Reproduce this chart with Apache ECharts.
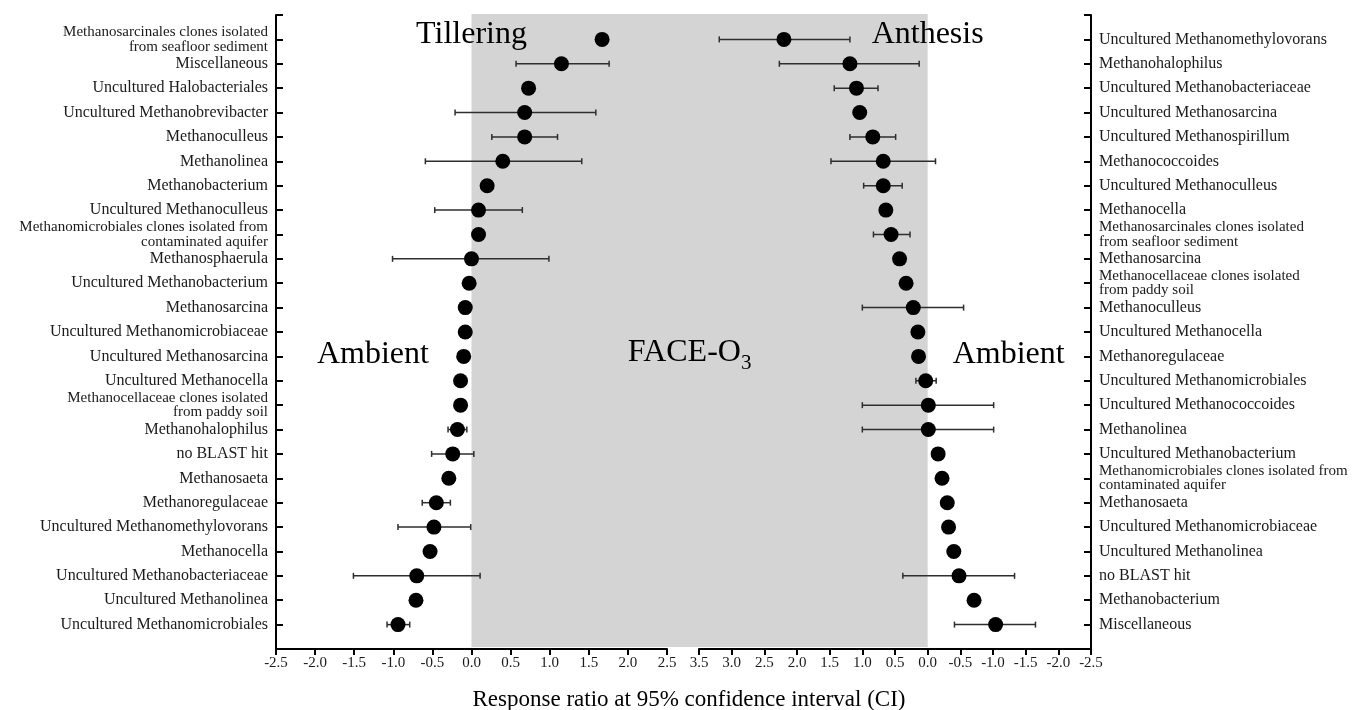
<!DOCTYPE html>
<html><head><meta charset="utf-8">
<script src="https://cdn.jsdelivr.net/npm/echarts/dist/echarts.min.js"></script>
<style>html,body{margin:0;padding:0;background:#fff}#c{width:1358px;height:710px}</style>
</head><body><div id="c"></div>
<script>
const FONT = "'Liberation Serif','Times New Roman',serif";

// ---- Tillering (left panel) ----
const leftCategories = [
  "Methanosarcinales clones isolated\nfrom seafloor sediment","Miscellaneous","Uncultured Halobacteriales",
  "Uncultured Methanobrevibacter","Methanoculleus","Methanolinea","Methanobacterium","Uncultured Methanoculleus",
  "Methanomicrobiales clones isolated from\ncontaminated aquifer","Methanosphaerula","Uncultured Methanobacterium",
  "Methanosarcina","Uncultured Methanomicrobiaceae","Uncultured Methanosarcina","Uncultured Methanocella",
  "Methanocellaceae clones isolated\nfrom paddy soil","Methanohalophilus","no BLAST hit","Methanosaeta",
  "Methanoregulaceae","Uncultured Methanomethylovorans","Methanocella","Uncultured Methanobacteriaceae",
  "Uncultured Methanolinea","Uncultured Methanomicrobiales"];
const leftValues = [1.67,1.15,0.73,0.68,0.68,0.40,0.20,0.09,0.09,0.00,-0.03,-0.08,-0.08,-0.10,-0.14,-0.14,-0.18,-0.24,-0.29,-0.45,-0.48,-0.53,-0.70,-0.71,-0.94];
const leftLow  = [null,0.57,null,-0.21,0.26,-0.59,null,-0.47,null,-1.01,null,null,null,null,null,null,-0.30,-0.51,null,-0.63,-0.94,null,-1.51,null,-1.08];
const leftHigh = [null,1.76,null,1.59,1.10,1.41,null,0.65,null,0.99,null,null,null,null,null,null,-0.06,0.03,null,-0.27,-0.01,null,0.11,null,-0.79];

// ---- Anthesis (right panel) ----
const rightCategories = [
  "Uncultured Methanomethylovorans","Methanohalophilus","Uncultured Methanobacteriaceae","Uncultured Methanosarcina",
  "Uncultured Methanospirillum","Methanococcoides","Uncultured Methanoculleus","Methanocella",
  "Methanosarcinales clones isolated\nfrom seafloor sediment","Methanosarcina",
  "Methanocellaceae clones isolated\nfrom paddy soil","Methanoculleus","Uncultured Methanocella","Methanoregulaceae",
  "Uncultured Methanomicrobiales","Uncultured Methanococcoides","Methanolinea","Uncultured Methanobacterium",
  "Methanomicrobiales clones isolated from\ncontaminated aquifer","Methanosaeta","Uncultured Methanomicrobiaceae",
  "Uncultured Methanolinea","no BLAST hit","Methanobacterium","Miscellaneous"];
const rightValues = [2.20,1.19,1.09,1.04,0.84,0.68,0.68,0.64,0.56,0.43,0.33,0.22,0.15,0.14,0.03,-0.01,-0.01,-0.16,-0.22,-0.30,-0.32,-0.40,-0.48,-0.71,-1.04];
const rightLow  = [1.19,0.13,0.76,null,0.49,-0.12,0.39,null,0.27,null,null,-0.55,null,null,-0.13,-1.01,-1.01,null,null,null,null,null,-1.33,null,-1.65];
const rightHigh = [3.19,2.27,1.43,null,1.19,1.48,0.98,null,0.83,null,null,1.00,null,null,0.18,1.00,1.00,null,null,null,null,null,0.38,null,-0.41];

const leftXRange = [-2.5, 2.5];
const rightXRange = [-2.5, 3.5];
const tickStep = 0.5;

const chart = echarts.init(document.getElementById('c'), null, {renderer:'canvas'});

function pad(c){ return [''].concat(c, ['']); }
function labelFmt(v){
  if (v.indexOf('\n') >= 0) return v.split('\n').map(s => '{s|' + s + '}').join('\n');
  return v;
}
function yAxisCfg(gi, pos, cats){
  return {
    type:'category', gridIndex:gi, position:pos, data:pad(cats), inverse:true, boundaryGap:false,
    axisLine:{show:true, onZero:false, lineStyle:{color:'#000', width:2}},
    axisTick:{show:true, inside:true, length:7, interval:0, lineStyle:{color:'#000', width:2}},
    axisLabel:{interval:0, margin:8, color:'#1a1a1a', fontFamily:FONT, fontSize:16, formatter:labelFmt,
      rich:{s:{fontFamily:FONT, fontSize:15, lineHeight:14.5, color:'#1a1a1a'}}},
    splitLine:{show:false}
  };
}
function xAxisCfg(gi, range, inv){
  return {
    type:'value', gridIndex:gi, min:range[0], max:range[1], interval:tickStep, inverse:inv,
    axisLine:{show:true, onZero:false, lineStyle:{color:'#000', width:2}},
    axisTick:{show:true, inside:false, length:6, lineStyle:{color:'#000', width:2}},
    axisLabel:{margin:7, color:'#1a1a1a', fontFamily:FONT, fontSize:15, showMinLabel:true, showMaxLabel:true,
      hideOverlap:false, formatter:v => v.toFixed(1)},
    splitLine:{show:false}
  };
}
function errRender(params, api){
  const y = api.value(1);
  const a = api.coord([api.value(0), y]);
  const b = api.coord([api.value(2), y]);
  const h = 3;
  const st = {stroke:'#2e2e2e', lineWidth:1.5};
  return {type:'group', children:[
    {type:'line', shape:{x1:a[0], y1:a[1], x2:b[0], y2:b[1]}, style:st},
    {type:'line', shape:{x1:a[0], y1:a[1]-h, x2:a[0], y2:a[1]+h}, style:st},
    {type:'line', shape:{x1:b[0], y1:b[1]-h, x2:b[0], y2:b[1]+h}, style:st}
  ]};
}
function errData(lo, hi){
  const out = [];
  lo.forEach((l, i) => { if (l !== null && hi[i] !== null) out.push([l, i + 1, hi[i]]); });
  return out;
}

const option = {
  animation:false,
  backgroundColor:'#fff',
  grid:[
    {left:276, top:15, width:391, height:634, containLabel:false, outerBoundsMode:'none'},
    {left:699, top:15, width:392, height:634, containLabel:false, outerBoundsMode:'none'}
  ],
  xAxis:[xAxisCfg(0, leftXRange, false), xAxisCfg(1, rightXRange, true)],
  yAxis:[yAxisCfg(0, 'left', leftCategories), yAxisCfg(1, 'right', rightCategories)],
  series:[
    {type:'custom', xAxisIndex:0, yAxisIndex:0, renderItem:errRender, encode:{x:[0,2], y:1},
      data:errData(leftLow, leftHigh), z:3, clip:false, silent:true},
    {type:'custom', xAxisIndex:1, yAxisIndex:1, renderItem:errRender, encode:{x:[0,2], y:1},
      data:errData(rightLow, rightHigh), z:3, clip:false, silent:true},
    {type:'scatter', xAxisIndex:0, yAxisIndex:0, symbol:'circle', symbolSize:15, itemStyle:{color:'#000', opacity:1},
      data:leftValues.map((v, i) => [v, i + 1]), z:5, silent:true},
    {type:'scatter', xAxisIndex:1, yAxisIndex:1, symbol:'circle', symbolSize:15, itemStyle:{color:'#000', opacity:1},
      data:rightValues.map((v, i) => [v, i + 1]), z:5, silent:true}
  ]
};
chart.setOption(option);

const x0 = chart.convertToPixel({xAxisIndex:0}, 0);
const x1 = chart.convertToPixel({xAxisIndex:1}, 0);
const yTop = chart.convertToPixel({yAxisIndex:0}, 0);
const yBot = chart.convertToPixel({yAxisIndex:0}, leftCategories.length + 1);
const yMid = chart.convertToPixel({yAxisIndex:0}, 14);
const ambL = chart.convertToPixel({xAxisIndex:0}, -1.26);
const ambR = chart.convertToPixel({xAxisIndex:1}, -1.24);
const big = {fontFamily:FONT, fontSize:32, fill:'#000', align:'center', verticalAlign:'middle'};

chart.setOption({
  graphic:[
    {type:'rect', z:-10, silent:true, shape:{x:x0, y:yTop - 1, width:x1 - x0, height:yBot - yTop - 1}, style:{fill:'#d4d4d4'}},
    {type:'text', z:10, x:x0, y:yTop + 20, style:Object.assign({text:'Tillering'}, big)},
    {type:'text', z:10, x:x1, y:yTop + 20, style:Object.assign({text:'Anthesis'}, big)},
    {type:'text', z:10, x:ambL, y:yMid - 2, style:Object.assign({text:'Ambient'}, big)},
    {type:'text', z:10, x:ambR, y:yMid - 2, style:Object.assign({text:'Ambient'}, big)},
    {type:'text', z:10, x:(x0 + x1) / 2 - 10, y:yMid - 2, style:{
      text:'{a|FACE-O}{b|3}', align:'center', verticalAlign:'middle', fontFamily:FONT,
      rich:{a:{fontFamily:FONT, fontSize:32, lineHeight:36, verticalAlign:'top', fill:'#000', color:'#000'},
            b:{fontFamily:FONT, fontSize:21, lineHeight:22, padding:[17,0,0,0], verticalAlign:'top', fill:'#000', color:'#000'}}}},
    {type:'text', z:10, x:689, y:700, style:{text:'Response ratio at 95% confidence interval (CI)', fontFamily:FONT, fontSize:23,
      fill:'#000', align:'center', verticalAlign:'middle'}}
  ]
});
</script></body></html>
